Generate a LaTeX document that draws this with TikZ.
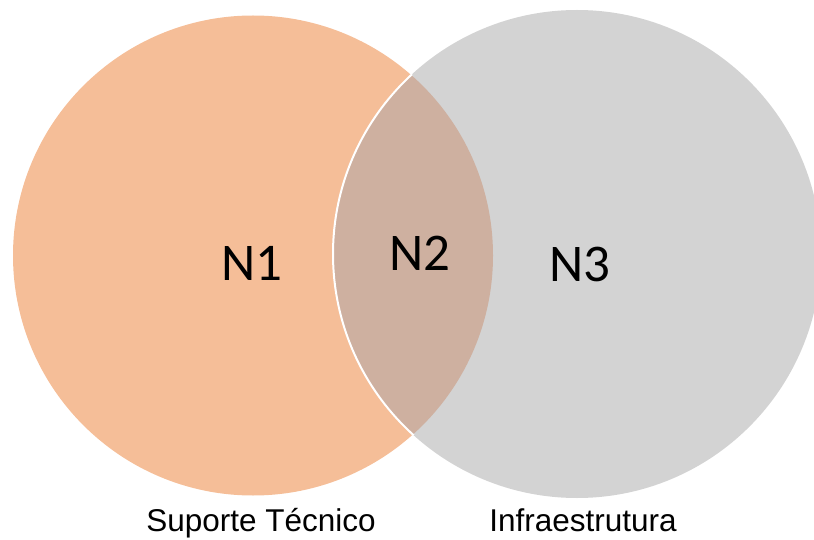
\documentclass[tikz,border=0pt]{standalone}
\usepackage{fontspec}
\setmainfont{Carlito}
\newfontfamily\labelfont{Liberation Sans}
\definecolor{orangefill}{RGB}{245,190,152}
\definecolor{grayfill}{RGB}{211,211,211}
\definecolor{overlapfill}{RGB}{206,176,160}
\begin{document}
\begin{tikzpicture}[x=1pt,y=-1pt,
  numtext/.style={font=\fontsize{53}{60}\selectfont, text=black, inner sep=0pt, anchor=center},
  captext/.style={font=\labelfont\fontsize{31.5}{36}\selectfont, text=black, inner sep=0pt, anchor=base}]
\useasboundingbox (0,0) rectangle (814,540);
\begin{scope}
\clip (0,0) rectangle (814,540);
\coordinate (c1) at (253,255.5);
\coordinate (c2) at (577,254);
\fill[orangefill] (c1) circle (240pt);
\fill[grayfill] (c2) circle (244pt);
\begin{scope}
\clip (c1) circle (240pt);
\fill[overlapfill] (c2) circle (244pt);
\end{scope}
\begin{scope}
\clip (c1) circle (241pt);
\draw[white, line width=2pt] (c2) circle (244pt);
\end{scope}
\end{scope}
\node[numtext] (n1) at (252,263) {N1};
\node[numtext] (n2) at (420,253) {N2};
\node[numtext] (n3) at (580,264) {N3};
\node[captext] (l1) at (261,531) {Suporte Técnico};
\node[captext] (l2) at (583,531) {Infraestrutura};
\end{tikzpicture}
\end{document}
